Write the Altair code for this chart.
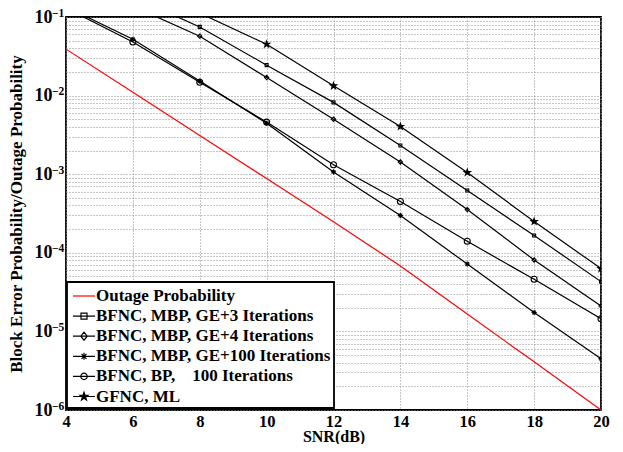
import math
import altair as alt
import pandas as pd

# ---------------- data ----------------
names = [
    "Outage Probability",
    "BFNC, MBP, GE+3 Iterations",
    "BFNC, MBP, GE+4 Iterations",
    "BFNC, MBP, GE+100 Iterations",
    "BFNC, BP,\u00a0\u00a0\u00a0\u00a0100 Iterations",
    "GFNC, ML",
]

snr_outage = [4, 6, 8, 10, 12, 14, 16, 18, 20]
outage = [0.039, 0.011, 0.0031, 8.8e-4, 2.48e-4, 6.8e-5, 1.66e-5, 4.1e-6, 1.0e-6]

snr_ge3 = [6, 8, 10, 12, 14, 16, 18, 20]
ge3 = [0.18, 0.0748, 0.0244, 0.0082, 0.00232, 6.2e-4, 1.66e-4, 4.3e-5]

snr_ge4 = [6, 8, 10, 12, 14, 16, 18, 20]
ge4 = [0.137, 0.057, 0.017, 0.005, 1.43e-3, 3.55e-4, 8.1e-5, 2.1e-5]

snr_ge100 = [4, 6, 8, 10, 12, 14, 16, 18, 20]
ge100 = [0.135, 0.052, 0.0153, 4.45e-3, 1.07e-3, 2.98e-4, 7.2e-5, 1.74e-5, 4.5e-6]

snr_bp = [4, 6, 8, 10, 12, 14, 16, 18, 20]
bp = [0.13, 0.048, 0.0148, 4.6e-3, 1.32e-3, 4.5e-4, 1.4e-4, 4.6e-5, 1.45e-5]

snr_ml = [8, 10, 12, 14, 16, 18, 20]
ml = [0.112, 0.045, 0.0133, 4.05e-3, 1.05e-3, 2.5e-4, 6.3e-5]

x_ticks = [4, 6, 8, 10, 12, 14, 16, 18, 20]
y_ticks = [m * 10.0 ** e for e in range(-6, -1) for m in range(1, 10)] + [0.1]
decades = [1e-1, 1e-2, 1e-3, 1e-4, 1e-5, 1e-6]
exponents = ["\u22121", "\u22122", "\u22123", "\u22124", "\u22125", "\u22126"]

# ---------------- table ----------------
rows = []
for name, xs, ys in zip(
    names,
    [snr_outage, snr_ge3, snr_ge4, snr_ge100, snr_bp, snr_ml],
    [outage, ge3, ge4, ge100, bp, ml],
):
    for x, y in zip(xs, ys):
        rows.append({"series": name, "snr": x, "value": y})
df = pd.DataFrame(rows)
exp_df = pd.DataFrame({"value": decades, "label": exponents})

# ---------------- styles ----------------
FONT = "Liberation Serif"
colors = ["#ff0000", "black", "black", "black", "black", "black"]
fills = ["transparent", "transparent", "transparent", "transparent", "transparent", "black"]


def star_path(scale=1.0):
    pts = []
    for i in range(10):
        a = math.radians(-90 + 36 * i)
        r = scale if i % 2 == 0 else scale * 0.4
        pts.append(f"{r * math.cos(a):.3f},{r * math.sin(a):.3f}")
    return "M" + "L".join(pts) + "Z"


asterisk = "M-1,0H1M0,-1V1M-0.7,-0.7L0.7,0.7M-0.7,0.7L0.7,-0.7"
plot_shapes = ["circle", "square", "diamond", asterisk, "circle", star_path(1.0)]
plot_sizes = [0, 45, 60, 50, 55, 110]

seg = "M-1.1,0H1.1"
legend_shapes = [
    seg,
    seg + "M-0.3,-0.3H0.3V0.3H-0.3Z",
    seg + "M0,-0.4L0.32,0L0,0.4L-0.32,0Z",
    seg + "M0,-0.35V0.35M-0.25,-0.25L0.25,0.25M-0.25,0.25L0.25,-0.25",
    seg + "M-0.32,0A0.32,0.32 0 1,0 0.32,0A0.32,0.32 0 1,0 -0.32,0Z",
    seg + star_path(0.42),
]

x_enc = alt.X(
    "snr:Q",
    scale=alt.Scale(domain=[4, 20], nice=False, zero=False),
    axis=alt.Axis(
        values=x_ticks,
        title="SNR(dB)",
        grid=True,
        gridDash=[1, 2],
        gridColor="#8c8c8c",
        gridWidth=1,
        ticks=False,
        domain=False,
        labelFont=FONT,
        labelFontSize=16.5,
        labelFontWeight="bold",
        labelColor="black",
        labelPadding=3,
        labelFlush=False,
        titleFont=FONT,
        titleFontSize=16,
        titleFontWeight="bold",
        titleColor="black",
        titlePadding=-1.5,
    ),
)

label_expr = (
    "abs(log(datum.value)/LN10 - round(log(datum.value)/LN10)) < 0.001 ? '10' : ''"
)

y_enc = alt.Y(
    "value:Q",
    scale=alt.Scale(type="log", domain=[1e-6, 1e-1], nice=False),
    axis=alt.Axis(
        values=y_ticks,
        labelExpr=label_expr,
        title="Block Error Probability/Outage Probability",
        grid=True,
        gridDash=[1, 2],
        gridColor="#8c8c8c",
        gridWidth=1,
        ticks=False,
        domain=False,
        labelOverlap=False,
        labelFlush=False,
        labelFont=FONT,
        labelFontSize=18,
        labelFontWeight="bold",
        labelColor="black",
        labelPadding=14,
        titleFont=FONT,
        titleFontSize=17,
        titleFontWeight="bold",
        titleColor="black",
        titlePadding=8.5,
    ),
)

base = alt.Chart(df)

lines = base.mark_line(clip=True, strokeWidth=1.2).encode(
    x=x_enc,
    y=y_enc,
    stroke=alt.Stroke("series:N", scale=alt.Scale(domain=names, range=colors), legend=None),
    detail="series:N",
)

points = (
    base.transform_filter(alt.datum.series != names[0])
    .mark_point(clip=True, strokeWidth=1.1, opacity=1)
    .encode(
        x=alt.X("snr:Q"),
        y=alt.Y("value:Q"),
        shape=alt.Shape("series:N", scale=alt.Scale(domain=names, range=plot_shapes), legend=None),
        fill=alt.Fill("series:N", scale=alt.Scale(domain=names, range=fills), legend=None),
        size=alt.Size("series:N", scale=alt.Scale(domain=names, range=plot_sizes), legend=None),
        stroke=alt.value("black"),
    )
)

exp_layer = alt.Chart(exp_df).mark_text(
    align="left",
    baseline="middle",
    dy=-3.5,
    font=FONT,
    fontSize=11.5,
    fontWeight="bold",
    color="black",
    clip=False,
).encode(
    x=alt.value(-14),
    y=alt.Y("value:Q"),
    text="label:N",
)

legend_layer = base.mark_point(clip=True, opacity=1, filled=False).encode(
    x=alt.value(-200),
    y=alt.value(-200),
    shape=alt.Shape(
        "series:N",
        scale=alt.Scale(domain=names, range=legend_shapes),
        legend=alt.Legend(title=None),
    ),
    stroke=alt.Stroke(
        "series:N",
        scale=alt.Scale(domain=names, range=colors),
        legend=alt.Legend(title=None),
    ),
    fill=alt.Fill(
        "series:N",
        scale=alt.Scale(domain=names, range=fills),
        legend=alt.Legend(title=None),
    ),
)

chart = (
    alt.layer(lines, points, exp_layer, legend_layer)
    .resolve_scale(shape="independent", fill="independent", stroke="independent", size="independent")
    .properties(
        width=535,
        height=393,
        autosize=alt.AutoSizeParams(type="none"),
        padding={"left": 58, "top": 9, "right": 14, "bottom": 34},
        background="white",
    )
    .configure_view(stroke="black", strokeWidth=1.8)
    .configure_legend(
        orient="none",
        legendX=1,
        legendY=265,
        direction="vertical",
        fillColor="white",
        strokeColor="black",
        strokeWidth=1.8,
        cornerRadius=0,
        padding=3,
        symbolSize=400,
        symbolStrokeWidth=1.2,
        symbolOffset=3,
        labelOffset=1,
        rowPadding=1.1,
        labelFont=FONT,
        labelFontSize=17,
        labelFontWeight="bold",
        labelColor="black",
        labelLimit=500,
    )
)

chart.save("out.html", embed_options={"renderer": "svg", "actions": False})
